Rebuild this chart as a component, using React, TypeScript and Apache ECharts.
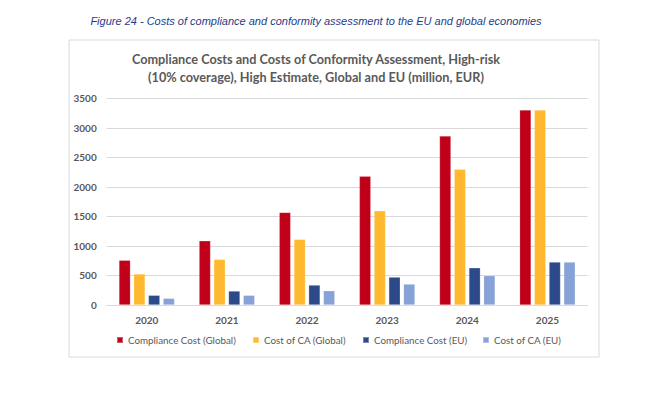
import React, { useEffect, useRef } from "react";
import * as echarts from "echarts";

const years = ["2020", "2021", "2022", "2023", "2024", "2025"];
const complianceGlobal = [758, 1088, 1568, 2182, 2862, 3303];
const caGlobal = [526, 773, 1112, 1596, 2300, 3303];
const complianceEU = [165, 237, 338, 473, 631, 728];
const caEU = [113, 165, 242, 355, 496, 728];
const seriesNames = [
  "Compliance Cost (Global)",
  "Cost of CA (Global)",
  "Compliance Cost (EU)",
  "Cost of CA (EU)",
];
const colors = ["#C00018", "#FFB92E", "#2C4A8A", "#87A2D6"];
const legendLefts = [116, 252, 362, 482];

export default function App() {
  const ref = useRef<HTMLDivElement>(null);
  useEffect(() => {
    if (!ref.current) return;
    const chart = echarts.init(ref.current, null, { renderer: "svg" });
    const data = [complianceGlobal, caGlobal, complianceEU, caEU];
    const font = "Lato";
    chart.setOption({
      animation: false,
      backgroundColor: "#ffffff",
      graphic: [
        {
          type: "rect",
          shape: { x: 69, y: 40, width: 530, height: 317 },
          style: { fill: "none", stroke: "#D9D9D9", lineWidth: 1 },
          silent: true,
        },
        {
          type: "text",
          x: 316,
          y: 21,
          style: {
            text: "Figure 24 - Costs of compliance and conformity assessment to the EU and global economies",
            fill: "#1F3C88",
            font: "italic 11px 'Liberation Sans', Arial, sans-serif",
            align: "center",
            verticalAlign: "middle",
          },
        },
        {
          type: "text",
          x: 316,
          y: 68,
          style: {
            text: "Compliance Costs and Costs of Conformity Assessment, High-risk\n(10% coverage), High Estimate, Global and EU (million, EUR)",
            fill: "#595959",
            font: "bold 12.7px Lato, sans-serif",
            lineHeight: 18,
            align: "center",
            verticalAlign: "middle",
          },
        },
      ],
      legend: seriesNames.map((name, i) => ({
        left: legendLefts[i],
        top: 335,
        itemWidth: 6,
        itemHeight: 6,
        icon: "rect",
        padding: 0,
        textStyle: { color: "#595959", fontSize: 9.8, fontFamily: font },
        data: [name],
      })),
      grid: { left: 106.7, right: 62.5, top: 98.3, bottom: 89, containLabel: false },
      xAxis: {
        type: "category",
        data: years,
        axisLine: { lineStyle: { color: "#D9D9D9" } },
        axisTick: { show: false },
        axisLabel: { color: "#595959", fontSize: 10, fontWeight: "bold", fontFamily: font, margin: 10 },
      },
      yAxis: {
        type: "value",
        min: 0,
        max: 3500,
        interval: 500,
        axisLine: { show: false },
        axisTick: { show: false },
        splitLine: { lineStyle: { color: "#D9D9D9", width: 1 } },
        axisLabel: {
          color: "#595959",
          fontSize: 10,
          fontWeight: "bold",
          fontFamily: font,
          margin: 10,
          formatter: (v: number) => String(v),
        },
      },
      series: seriesNames.map((name, i) => ({
        name,
        type: "bar",
        data: data[i],
        barWidth: 11.5,
        barGap: "28%",
        itemStyle: { color: colors[i], borderColor: "rgba(255,255,255,0.35)", borderWidth: 0.6 },
      })),
    });
    return () => chart.dispose();
  }, []);
  return (
    <div
      ref={ref}
      style={{ position: "fixed", left: 0, top: 0, width: 650, height: 394, background: "#fff" }}
    />
  );
}
